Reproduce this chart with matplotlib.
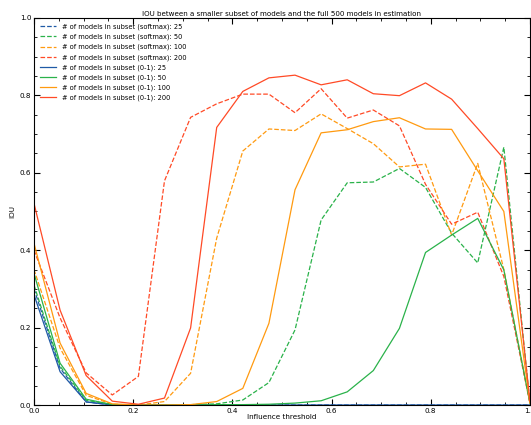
import matplotlib
matplotlib.use('Agg')
import matplotlib.pyplot as plt
import numpy as np
from matplotlib.ticker import MultipleLocator

# influence thresholds (20 evenly spaced points in [0, 1])
thresholds = np.linspace(0, 1, 20)

# softmax selection
soft_25 = [0.30, 0.095, 0.008, 0, 0, 0, 0, 0, 0, 0, 0, 0, 0, 0, 0, 0, 0, 0, 0, 0]
soft_50 = [0.31, 0.10, 0.012, 0.001, 0, 0, 0.001, 0.003, 0.013, 0.058, 0.194, 0.478,
           0.574, 0.576, 0.611, 0.562, 0.444, 0.367, 0.666, 0.005]
soft_100 = [0.35, 0.147, 0.025, 0.002, 0, 0.009, 0.082, 0.431, 0.656, 0.713, 0.709, 0.752,
            0.714, 0.675, 0.615, 0.622, 0.439, 0.624, 0.35, 0.005]
soft_200 = [0.40, 0.225, 0.083, 0.026, 0.074, 0.579, 0.743, 0.778, 0.803, 0.803, 0.755, 0.817,
            0.741, 0.762, 0.721, 0.57, 0.467, 0.498, 0.332, 0.005]

# 0-1 selection
hard_25 = [0.285, 0.086, 0.008, 0, 0, 0, 0, 0, 0, 0, 0, 0, 0, 0, 0, 0, 0, 0, 0, 0]
hard_50 = [0.34, 0.108, 0.015, 0.001, 0, 0, 0, 0.001, 0.001, 0.002, 0.005, 0.011,
           0.034, 0.089, 0.198, 0.394, 0.439, 0.482, 0.349, 0.005]
hard_100 = [0.418, 0.16, 0.03, 0.003, 0, 0, 0.001, 0.009, 0.043, 0.211, 0.556, 0.703,
            0.711, 0.732, 0.742, 0.713, 0.712, 0.605, 0.50, 0.005]
hard_200 = [0.521, 0.245, 0.076, 0.01, 0.002, 0.018, 0.199, 0.717, 0.81, 0.845, 0.852, 0.827,
            0.840, 0.804, 0.799, 0.832, 0.790, 0.714, 0.636, 0.01]

sizes = [25, 50, 100, 200]
colors = ['#1f5aa6', '#2ab24a', '#ff9a10', '#ff4a26']

fig = plt.figure(figsize=(5.31, 4.25), dpi=100)
ax = fig.add_axes([0.064, 0.047, 0.934, 0.911])

for n, vals, c in zip(sizes, [soft_25, soft_50, soft_100, soft_200], colors):
    ax.plot(thresholds, vals, '--', color=c, lw=0.9,
            label='# of models in subset (softmax): %d' % n)
for n, vals, c in zip(sizes, [hard_25, hard_50, hard_100, hard_200], colors):
    ax.plot(thresholds, vals, '-', color=c, lw=0.9,
            label='# of models in subset (0-1): %d' % n)

ax.set_xlim(0, 1)
ax.set_ylim(0, 1)
ax.xaxis.set_major_locator(MultipleLocator(0.2))
ax.yaxis.set_major_locator(MultipleLocator(0.2))
ax.xaxis.set_minor_locator(MultipleLocator(0.05))
ax.yaxis.set_minor_locator(MultipleLocator(0.05))
ax.tick_params(which='both', direction='in', top=True, right=True, labelsize=5.2, pad=2)
ax.tick_params(which='major', length=4, width=0.8)
ax.tick_params(which='minor', length=2, width=0.6)
for s in ax.spines.values():
    s.set_linewidth(0.8)

ax.set_xlabel('Influence threshold', fontsize=5.2, labelpad=0.5)
ax.set_ylabel('IOU', fontsize=5.2, labelpad=3)
ax.set_title('IOU between a smaller subset of models and the full 500 models in estimation',
             fontsize=5.1, pad=1.5)
ax.legend(loc='upper left', frameon=False, fontsize=4.8, handlelength=2.4,
          handletextpad=0.9, labelspacing=0.55, borderaxespad=0.45)

fig.savefig('out.png', dpi=100)
